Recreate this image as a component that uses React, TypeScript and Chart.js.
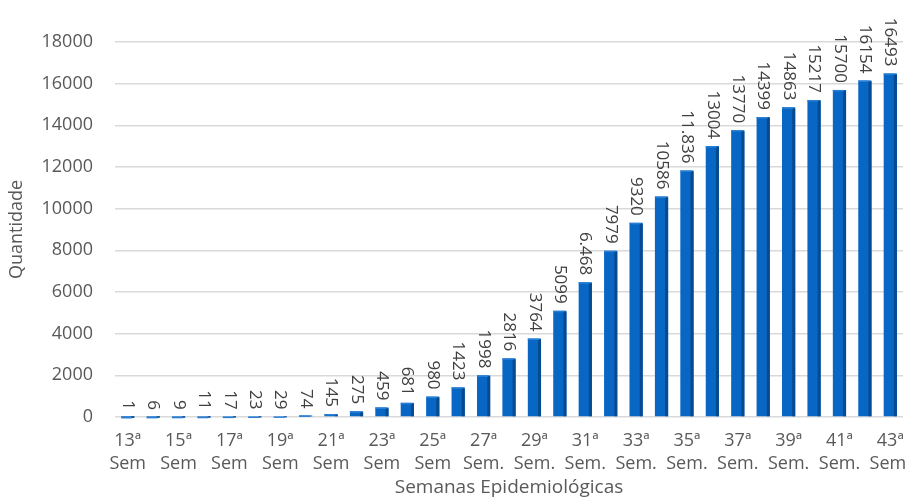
import React, { useEffect, useRef } from "react";
import { Chart, registerables } from "chart.js";

Chart.register(...registerables);

const weeks = [
  "13ª|Sem", "14ª|Sem", "15ª|Sem", "16ª|Sem", "17ª|Sem", "18ª|Sem", "19ª|Sem", "20ª|Sem",
  "21ª|Sem", "22ª|Sem", "23ª|Sem", "24ª|Sem", "25ª|Sem", "26ª|Sem.", "27ª|Sem.", "28ª|Sem.",
  "29ª|Sem.", "30ª|Sem.", "31ª|Sem.", "32ª|Sem.", "33ª|Sem.", "34ª|Sem.", "35ª|Sem.", "36ª|Sem.",
  "37ª|Sem.", "38ª|Sem.", "39ª|Sem.", "40ª|Sem.", "41ª|Sem.", "42ª|Sem.", "43ª|Sem.",
];

const casos = [
  1, 6, 9, 11, 17, 23, 29, 74, 145, 275, 459, 681, 980, 1423, 1998, 2816,
  3764, 5099, 6468, 7979, 9320, 10586, 11836, 13004, 13770, 14399, 14863, 15217, 15700, 16154, 16493,
];

const valueLabels = [
  "1", "6", "9", "11", "17", "23", "29", "74", "145", "275", "459", "681", "980", "1423", "1998", "2816",
  "3764", "5099", "6.468", "7979", "9320", "10586", "11.836", "13004", "13770", "14399", "14863", "15217", "15700", "16154", "16493",
];

const yMax = 18000;
const yStep = 2000;
const FONT = "'Open Sans', sans-serif";

const labelsPlugin = {
  id: "barDecor",
  afterDatasetsDraw(chart: any) {
    const ctx = chart.ctx;
    const meta = chart.getDatasetMeta(0);
    ctx.save();
    meta.data.forEach((bar: any, i: number) => {
      const w = bar.width;
      const right = bar.x + w / 2;
      const top = bar.y;
      const base = bar.base;
      ctx.fillStyle = "#074a8f";
      ctx.fillRect(right - 3, top + 1, 3, base - top - 1);
      ctx.fillStyle = "#2a7fd4";
      ctx.fillRect(bar.x - w / 2, top, w - 2, 1.5);
      ctx.save();
      ctx.translate(bar.x, top - 7);
      ctx.rotate(Math.PI / 2);
      ctx.textAlign = "right";
      ctx.textBaseline = "middle";
      ctx.font = `17px ${FONT}`;
      ctx.fillStyle = "#404040";
      ctx.fillText(valueLabels[i], 0, 0);
      ctx.restore();
    });
    ctx.restore();
  },
};

export default function App() {
  const ref = useRef<HTMLCanvasElement | null>(null);
  useEffect(() => {
    if (!ref.current) return;
    const chart = new Chart(ref.current, {
      type: "bar",
      data: {
        labels: weeks,
        datasets: [
          {
            data: casos,
            backgroundColor: "#0866c4",
            borderWidth: 0,
            barPercentage: 0.52,
            categoryPercentage: 1,
          },
        ],
      },
      options: {
        responsive: false,
        animation: false,
        layout: { padding: { top: 42, right: 2, left: 0, bottom: 0 } },
        plugins: {
          legend: { display: false },
          tooltip: { enabled: false },
        },
        scales: {
          x: {
            grid: { display: false },
            border: { display: false },
            afterFit: (s: any) => {
              s.height = 82;
              s.paddingLeft = 0;
              s.paddingRight = 0;
            },
            ticks: {
              autoSkip: false,
              maxRotation: 0,
              minRotation: 0,
              padding: 5,
              color: "#595959",
              font: { family: FONT, size: 18, lineHeight: 1.25 },
              callback: (_v: any, i: number) => (i % 2 === 0 ? weeks[i].split("|") : ""),
            },
            title: {
              display: true,
              text: "Semanas Epidemiológicas",
              color: "#595959",
              font: { family: FONT, size: 19 },
              padding: { top: 6, bottom: 0 },
            },
          },
          y: {
            min: 0,
            max: yMax,
            afterFit: (s: any) => {
              s.width = 115;
            },
            border: { display: false },
            grid: { color: "#d9d9d9", lineWidth: 1.5, drawTicks: false },
            ticks: {
              stepSize: yStep,
              padding: 22,
              color: "#595959",
              font: { family: FONT, size: 18 },
              callback: (v: any) => String(v),
            },
            title: {
              display: true,
              text: "Quantidade",
              color: "#595959",
              font: { family: FONT, size: 18 },
              padding: { top: 6, bottom: 0 },
            },
          },
        },
      },
      plugins: [labelsPlugin],
    });
    return () => chart.destroy();
  }, []);
  return (
    <div style={{ position: "fixed", left: 0, top: 0, width: 905, height: 499, background: "#fff" }}>
      <canvas ref={ref} width={905} height={499} style={{ width: 905, height: 499 }} />
    </div>
  );
}
